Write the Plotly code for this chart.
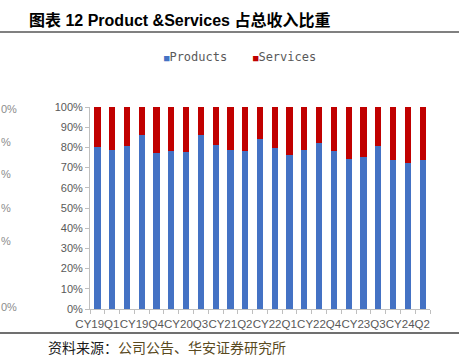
import plotly.graph_objects as go

categories = ["CY19Q1", "CY19Q2", "CY19Q3", "CY19Q4", "CY20Q1", "CY20Q2", "CY20Q3", "CY20Q4",
              "CY21Q1", "CY21Q2", "CY21Q3", "CY21Q4", "CY22Q1", "CY22Q2", "CY22Q3", "CY22Q4",
              "CY23Q1", "CY23Q2", "CY23Q3", "CY23Q4", "CY24Q1", "CY24Q2", "CY24Q3"]
products = [80.3, 78.9, 80.8, 86.3, 77.4, 78.4, 77.7, 86.3, 81.3, 78.7, 78.4, 84.3,
            79.7, 76.4, 78.9, 82.3, 78.4, 74.3, 75.2, 80.8, 73.9, 72.1, 73.8]
services = [round(100 - p, 1) for p in products]
y_ticks = [0, 10, 20, 30, 40, 50, 60, 70, 80, 90, 100]
label_every = 3

BLUE = "#4472C4"
RED = "#C00000"
GRAY = "#595959"

W, H = 459, 358
L, R, T, B = 90, 29, 107, 49
PW, PH = W - L - R, H - T - B

def px(x):
    return (x - L) / PW

def py(y):
    return (H - B - y) / PH

idx = list(range(len(categories)))

fig = go.Figure()
fig.add_trace(go.Bar(x=idx, y=products, name="Products", marker=dict(color=BLUE, line=dict(width=0))))
fig.add_trace(go.Bar(x=idx, y=services, name="Services", marker=dict(color=RED, line=dict(width=0))))

tickvals = idx[::label_every]
ticktext = [categories[i] for i in tickvals]

fig.update_layout(
    width=W, height=H,
    margin=dict(l=L, r=R, t=T, b=B, pad=0),
    barmode="stack", bargap=0.58,
    showlegend=False,
    plot_bgcolor="white", paper_bgcolor="white",
    xaxis=dict(
        range=[-0.5, len(categories) - 0.5],
        tickmode="array", tickvals=tickvals, ticktext=ticktext, tickangle=0,
        ticks="outside", ticklen=4, tickcolor="rgba(0,0,0,0)",
        minor=dict(ticks="outside", ticklen=4, tickcolor="#bfbfbf", tick0=-0.5, dtick=1),
        showline=True, linecolor="#bfbfbf", linewidth=1,
        showgrid=False, zeroline=False,
        tickfont=dict(family="Liberation Sans, Arial", size=11.5, color=GRAY),
    ),
    yaxis=dict(
        range=[0, 100],
        tickmode="array", tickvals=y_ticks, ticktext=[f"{v}%" for v in y_ticks],
        ticks="outside", ticklen=4, tickcolor="#bfbfbf",
        showline=True, linecolor="#bfbfbf", linewidth=1,
        showgrid=False, zeroline=False,
        tickfont=dict(family="Liberation Sans, Arial", size=11, color=GRAY),
    ),
)

# Title and rules
fig.add_annotation(xref="paper", yref="paper", x=px(27), y=py(20), xanchor="left", yanchor="middle",
                   text="<b>图表 12 Product &Services 占总收入比重</b>", showarrow=False,
                   font=dict(family="Liberation Sans, Noto Sans CJK SC", size=16, color="black"))
fig.add_shape(type="line", xref="paper", yref="paper", x0=px(0), x1=px(W), y0=py(32), y1=py(32),
              line=dict(color="#808080", width=2))
fig.add_shape(type="line", xref="paper", yref="paper", x0=px(0), x1=px(W), y0=py(333), y1=py(333),
              line=dict(color="#404040", width=1.5))

# Legend
for name, color, x0 in [("Products", BLUE, 162), ("Services", RED, 251)]:
    fig.add_annotation(xref="paper", yref="paper", x=px(x0), y=py(57), xanchor="left", yanchor="middle",
                       text=f"<span style='color:{color};font-size:9px'>■</span>{name}", showarrow=False,
                       font=dict(family="DejaVu Sans Mono", size=12, color=GRAY))

# Source
fig.add_annotation(xref="paper", yref="paper", x=px(46), y=py(347), xanchor="left", yanchor="middle",
                   text="资料来源：<span style='color:#5a4a1e'>公司公告、华安证券研究所</span>", showarrow=False,
                   font=dict(family="Noto Sans CJK SC", size=14, color="#1a1a1a"))

# Clipped neighbouring axis labels at left edge
for txt, xl, yc in [("0%", 0, 109), ("%", 0, 142), ("%", 0, 174), ("%", 0, 208), ("%", 0, 241), ("0%", 0, 307)]:
    fig.add_annotation(xref="paper", yref="paper", x=px(xl), y=py(yc), xanchor="left", yanchor="middle",
                       text=txt, showarrow=False, borderpad=0,
                       font=dict(family="Liberation Sans, Arial", size=11, color="#8c8c8c"))

fig.write_html("out.html", config={"displayModeBar": False},
               post_script="document.body.style.margin='0';document.body.style.padding='0';")
